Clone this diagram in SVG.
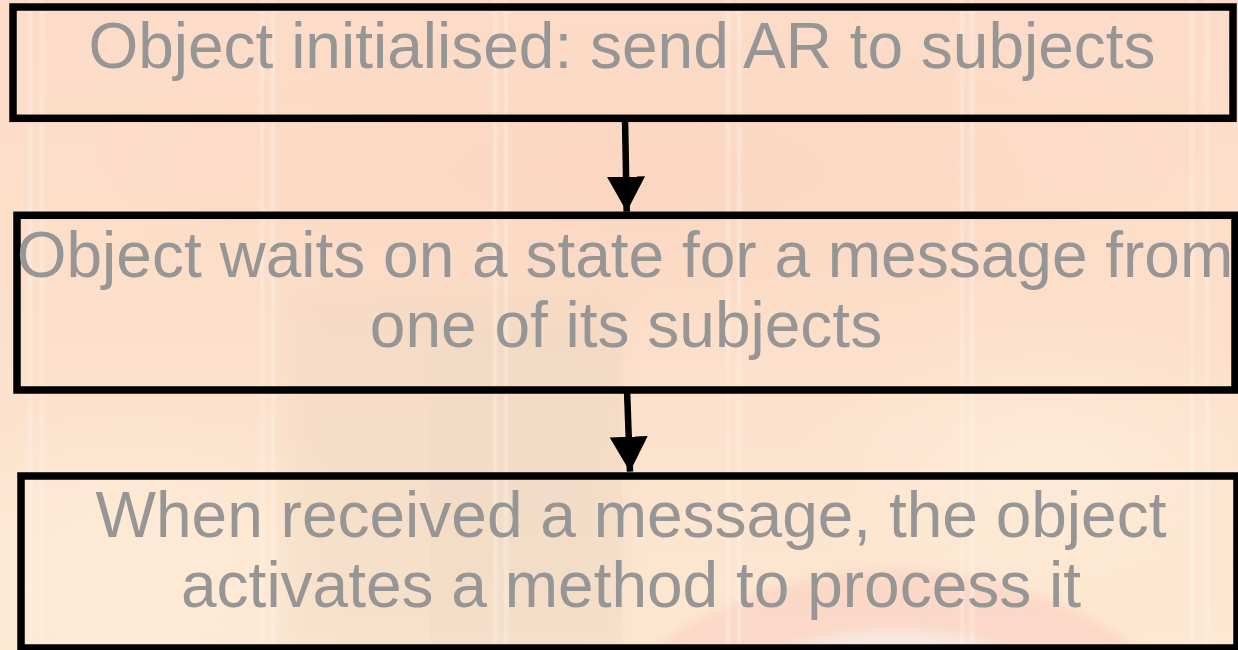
<svg xmlns="http://www.w3.org/2000/svg" width="1238" height="650" viewBox="0 0 1238 650">
  <style>
    .box { fill: none; stroke: #000; stroke-width: 7.5; stroke-linejoin: miter; }
    .label { font-family: "Liberation Sans", Arial, sans-serif; font-size: 64px; fill: #969696; text-anchor: middle; }
    .wire { fill: none; stroke: #000; stroke-width: 6.5; }
    .stripe { stroke: #fff6ea; stroke-width: 4; opacity: 0.4; }
  </style>
  <defs>
    <linearGradient id="bgGrad" x1="0" y1="0" x2="0" y2="1">
      <stop offset="0" stop-color="#fcdcc8"/>
      <stop offset="0.45" stop-color="#fcdfca"/>
      <stop offset="1" stop-color="#fde8d2"/>
    </linearGradient>
    <radialGradient id="warmGlow" cx="0.5" cy="0.5" r="0.5">
      <stop offset="0" stop-color="#fbd2bd" stop-opacity="0.6"/>
      <stop offset="1" stop-color="#fbd2bd" stop-opacity="0"/>
    </radialGradient>
    <radialGradient id="paleGlow" cx="0.5" cy="0.5" r="0.5">
      <stop offset="0" stop-color="#feecd8" stop-opacity="0.9"/>
      <stop offset="1" stop-color="#feecd8" stop-opacity="0"/>
    </radialGradient>
    <filter id="soft" x="-10%" y="-10%" width="120%" height="120%">
      <feGaussianBlur stdDeviation="6"/>
    </filter>
    <filter id="softer" x="-20%" y="-20%" width="140%" height="140%">
      <feGaussianBlur stdDeviation="14"/>
    </filter>
    <filter id="hair">
      <feGaussianBlur stdDeviation="0.8"/>
    </filter>
    <marker id="head" markerUnits="userSpaceOnUse" markerWidth="38" markerHeight="40" refX="35" refY="19" orient="auto">
      <path d="M0,0 L35,19 L0,38 Z" fill="#000"/>
    </marker>
  </defs>

  <!-- backdrop -->
  <g id="backdrop">
    <rect x="0" y="0" width="1238" height="650" fill="url(#bgGrad)"/>
    <ellipse cx="640" cy="180" rx="560" ry="190" fill="url(#warmGlow)"/>
    <ellipse cx="130" cy="560" rx="260" ry="160" fill="url(#paleGlow)"/>
    <ellipse cx="1050" cy="470" rx="260" ry="150" fill="url(#paleGlow)"/>
    <!-- tan panel in the lower middle -->
    <rect x="285" y="290" width="338" height="360" fill="#ead2bc" opacity="0.3" filter="url(#softer)"/>
    <rect x="430" y="330" width="193" height="320" fill="#ecd6c2" opacity="0.25"/>
    <!-- arc emblem at the bottom right -->
    <g filter="url(#soft)">
      <circle cx="895" cy="985" r="415" fill="#fbcfc2" opacity="0.65"/>
      <circle cx="895" cy="985" r="355" fill="#f7ece6" opacity="0.85"/>
    </g>
    <!-- light vertical stripes -->
    <g filter="url(#hair)">
      <line class="stripe" x1="30" y1="0" x2="30" y2="650"/>
      <line class="stripe" x1="42" y1="0" x2="42" y2="650"/>
      <line class="stripe" x1="262" y1="0" x2="262" y2="650"/>
      <line class="stripe" x1="273" y1="0" x2="273" y2="650"/>
      <line class="stripe" x1="495" y1="0" x2="495" y2="650"/>
      <line class="stripe" x1="506" y1="0" x2="506" y2="650"/>
      <line class="stripe" x1="728" y1="0" x2="728" y2="650"/>
      <line class="stripe" x1="739" y1="0" x2="739" y2="650"/>
      <line class="stripe" x1="962" y1="0" x2="962" y2="650"/>
      <line class="stripe" x1="972" y1="0" x2="972" y2="650"/>
      <line class="stripe" x1="1192" y1="0" x2="1192" y2="650"/>
      <line class="stripe" x1="1207" y1="0" x2="1207" y2="650"/>
    </g>
  </g>

  <!-- connectors -->
  <g id="connectors">
    <line class="wire" x1="625" y1="118" x2="626.7" y2="211.7" marker-end="url(#head)"/>
    <line class="wire" x1="627" y1="390" x2="630" y2="471.7" marker-end="url(#head)"/>
  </g>

  <!-- steps -->
  <g id="step-init">
    <rect class="box" x="13" y="7" width="1220" height="111.3"/>
    <text class="label" x="622" y="68">Object initialised: send AR to subjects</text>
  </g>
  <g id="step-wait">
    <rect class="box" x="17" y="215.3" width="1218" height="174.7"/>
    <text class="label" x="625" y="276.5">Object waits on a state for a message from</text>
    <text class="label" x="626" y="346.5">one of its subjects</text>
  </g>
  <g id="step-process">
    <rect class="box" x="21" y="476" width="1216" height="172"/>
    <text class="label" x="631" y="537">When received a message, the object</text>
    <text class="label" x="631" y="607">activates a method to process it</text>
  </g>
</svg>
